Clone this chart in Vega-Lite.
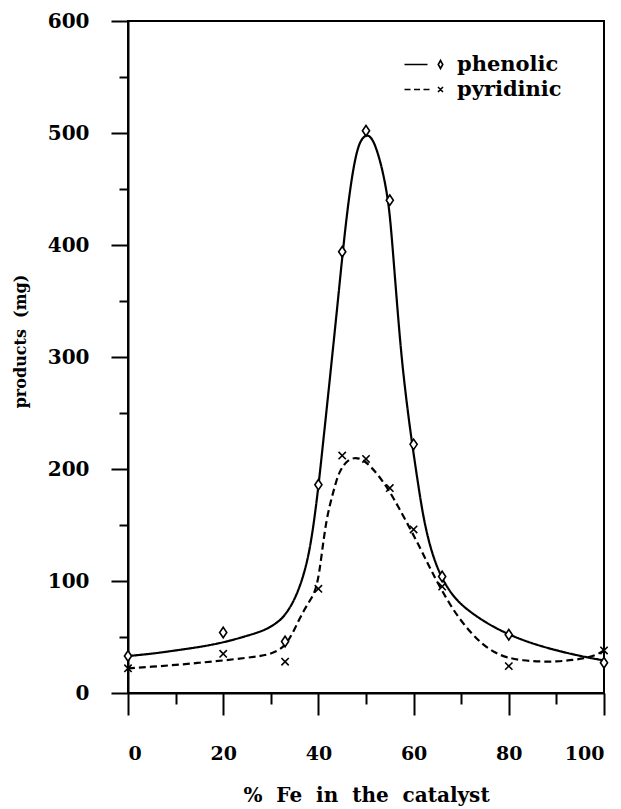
{
  "$schema": "https://vega.github.io/schema/vega-lite/v6.json",
  "width": 476,
  "height": 672,
  "autosize": {"type": "none"},
  "padding": {"left": 128, "top": 21, "right": 17, "bottom": 116},
  "background": "white",
  "config": {
    "view": {"stroke": "black", "strokeWidth": 2},
    "axis": {"grid": false}
  },
  "datasets": {
    "curves": [
      {"curve": "phenolic", "x": 0, "y": 33}, {"curve": "phenolic", "x": 5, "y": 35}, {"curve": "phenolic", "x": 10, "y": 38}, {"curve": "phenolic", "x": 15, "y": 41}, {"curve": "phenolic", "x": 20, "y": 45}, {"curve": "phenolic", "x": 25, "y": 51}, {"curve": "phenolic", "x": 28, "y": 55}, {"curve": "phenolic", "x": 30, "y": 59}, {"curve": "phenolic", "x": 32, "y": 65}, {"curve": "phenolic", "x": 33, "y": 70}, {"curve": "phenolic", "x": 34, "y": 76}, {"curve": "phenolic", "x": 35, "y": 84}, {"curve": "phenolic", "x": 36, "y": 94}, {"curve": "phenolic", "x": 37, "y": 107}, {"curve": "phenolic", "x": 38, "y": 124}, {"curve": "phenolic", "x": 39, "y": 150}, {"curve": "phenolic", "x": 40, "y": 184}, {"curve": "phenolic", "x": 41, "y": 224}, {"curve": "phenolic", "x": 42, "y": 264}, {"curve": "phenolic", "x": 43, "y": 305}, {"curve": "phenolic", "x": 44, "y": 346}, {"curve": "phenolic", "x": 45, "y": 389}, {"curve": "phenolic", "x": 46, "y": 428}, {"curve": "phenolic", "x": 47, "y": 460}, {"curve": "phenolic", "x": 48, "y": 483}, {"curve": "phenolic", "x": 49, "y": 495}, {"curve": "phenolic", "x": 50.3, "y": 499}, {"curve": "phenolic", "x": 51.3, "y": 495}, {"curve": "phenolic", "x": 52.2, "y": 486}, {"curve": "phenolic", "x": 53.3, "y": 470}, {"curve": "phenolic", "x": 54.3, "y": 449}, {"curve": "phenolic", "x": 55, "y": 428}, {"curve": "phenolic", "x": 55.7, "y": 392}, {"curve": "phenolic", "x": 56.6, "y": 343}, {"curve": "phenolic", "x": 57.5, "y": 298}, {"curve": "phenolic", "x": 58.6, "y": 257}, {"curve": "phenolic", "x": 59.7, "y": 222}, {"curve": "phenolic", "x": 61, "y": 185}, {"curve": "phenolic", "x": 62, "y": 158}, {"curve": "phenolic", "x": 63.2, "y": 135}, {"curve": "phenolic", "x": 64.5, "y": 117}, {"curve": "phenolic", "x": 66, "y": 102}, {"curve": "phenolic", "x": 68, "y": 88}, {"curve": "phenolic", "x": 70.4, "y": 77}, {"curve": "phenolic", "x": 75, "y": 63}, {"curve": "phenolic", "x": 80, "y": 52}, {"curve": "phenolic", "x": 85, "y": 44}, {"curve": "phenolic", "x": 90, "y": 38}, {"curve": "phenolic", "x": 95, "y": 33}, {"curve": "phenolic", "x": 100, "y": 29},
      {"curve": "pyridinic", "x": 0, "y": 22}, {"curve": "pyridinic", "x": 5, "y": 23.5}, {"curve": "pyridinic", "x": 10, "y": 25}, {"curve": "pyridinic", "x": 15, "y": 27}, {"curve": "pyridinic", "x": 20, "y": 29}, {"curve": "pyridinic", "x": 25, "y": 31.5}, {"curve": "pyridinic", "x": 28, "y": 33}, {"curve": "pyridinic", "x": 30, "y": 35}, {"curve": "pyridinic", "x": 32, "y": 39}, {"curve": "pyridinic", "x": 33, "y": 43}, {"curve": "pyridinic", "x": 34, "y": 49}, {"curve": "pyridinic", "x": 35, "y": 57}, {"curve": "pyridinic", "x": 36, "y": 66}, {"curve": "pyridinic", "x": 37, "y": 74}, {"curve": "pyridinic", "x": 38, "y": 81}, {"curve": "pyridinic", "x": 39, "y": 88}, {"curve": "pyridinic", "x": 39.6, "y": 95}, {"curve": "pyridinic", "x": 40.2, "y": 108}, {"curve": "pyridinic", "x": 40.7, "y": 124}, {"curve": "pyridinic", "x": 41.2, "y": 140}, {"curve": "pyridinic", "x": 41.7, "y": 154}, {"curve": "pyridinic", "x": 42.4, "y": 168}, {"curve": "pyridinic", "x": 43.1, "y": 179}, {"curve": "pyridinic", "x": 43.8, "y": 190}, {"curve": "pyridinic", "x": 44.5, "y": 198}, {"curve": "pyridinic", "x": 45.4, "y": 204}, {"curve": "pyridinic", "x": 46.3, "y": 208}, {"curve": "pyridinic", "x": 47.5, "y": 210}, {"curve": "pyridinic", "x": 48.6, "y": 209.5}, {"curve": "pyridinic", "x": 49.6, "y": 207.5}, {"curve": "pyridinic", "x": 51, "y": 202}, {"curve": "pyridinic", "x": 52.5, "y": 195}, {"curve": "pyridinic", "x": 54.7, "y": 182}, {"curve": "pyridinic", "x": 57.1, "y": 164}, {"curve": "pyridinic", "x": 59.6, "y": 144}, {"curve": "pyridinic", "x": 61.2, "y": 131}, {"curve": "pyridinic", "x": 62.7, "y": 118}, {"curve": "pyridinic", "x": 64, "y": 107}, {"curve": "pyridinic", "x": 65.5, "y": 95}, {"curve": "pyridinic", "x": 67.5, "y": 80}, {"curve": "pyridinic", "x": 69.5, "y": 67}, {"curve": "pyridinic", "x": 72, "y": 54}, {"curve": "pyridinic", "x": 74.3, "y": 44}, {"curve": "pyridinic", "x": 77, "y": 36}, {"curve": "pyridinic", "x": 79.6, "y": 31.5}, {"curve": "pyridinic", "x": 83, "y": 29}, {"curve": "pyridinic", "x": 86.6, "y": 28}, {"curve": "pyridinic", "x": 90, "y": 28}, {"curve": "pyridinic", "x": 93.6, "y": 29.5}, {"curve": "pyridinic", "x": 96, "y": 31}, {"curve": "pyridinic", "x": 98.5, "y": 34}, {"curve": "pyridinic", "x": 100, "y": 38}
    ],
    "points": [
      {"series": "phenolic", "x": 0, "y": 33}, {"series": "phenolic", "x": 20, "y": 54}, {"series": "phenolic", "x": 33, "y": 46}, {"series": "phenolic", "x": 40, "y": 186}, {"series": "phenolic", "x": 45, "y": 394}, {"series": "phenolic", "x": 50, "y": 502}, {"series": "phenolic", "x": 55, "y": 440}, {"series": "phenolic", "x": 60, "y": 222}, {"series": "phenolic", "x": 66, "y": 104}, {"series": "phenolic", "x": 80, "y": 52}, {"series": "phenolic", "x": 100, "y": 27},
      {"series": "pyridinic", "x": 0, "y": 22}, {"series": "pyridinic", "x": 20, "y": 35}, {"series": "pyridinic", "x": 33, "y": 28}, {"series": "pyridinic", "x": 40, "y": 93}, {"series": "pyridinic", "x": 45, "y": 212}, {"series": "pyridinic", "x": 50, "y": 209}, {"series": "pyridinic", "x": 55, "y": 183}, {"series": "pyridinic", "x": 60, "y": 146}, {"series": "pyridinic", "x": 66, "y": 95}, {"series": "pyridinic", "x": 80, "y": 24}, {"series": "pyridinic", "x": 100, "y": 38}
    ]
  },
  "encoding": {
    "x": {
      "field": "x", "type": "quantitative",
      "scale": {"domain": [0, 100], "nice": false, "zero": false},
      "axis": {
        "orient": "bottom",
        "values": [0, 10, 20, 30, 40, 50, 60, 70, 80, 90, 100],
        "labelExpr": "datum.value % 20 === 0 ? datum.label : ''",
        "labelOverlap": false,
        "tickSize": {"condition": {"test": "datum.value % 20 === 0", "value": 22}, "value": 11},
        "tickWidth": 2, "tickColor": "black",
        "domainWidth": 2, "domainColor": "black",
        "labelFont": "DejaVu Serif", "labelFontWeight": "bold", "labelFontSize": 19, "labelColor": "black",
        "labelPadding": 29,
        "title": "%\u00a0 Fe\u00a0 in\u00a0 the\u00a0 catalyst",
        "titleFont": "DejaVu Serif", "titleFontWeight": "bold", "titleFontSize": 20, "titleColor": "black",
        "titleBaseline": "top", "titleY": 92
      }
    },
    "y": {
      "field": "y", "type": "quantitative",
      "scale": {"domain": [0, 600], "nice": false},
      "axis": {
        "orient": "left",
        "values": [0, 50, 100, 150, 200, 250, 300, 350, 400, 450, 500, 550, 600],
        "labelExpr": "datum.value % 100 === 0 ? datum.label : ''",
        "labelOverlap": false,
        "tickSize": {"condition": {"test": "datum.value % 100 === 0", "value": 17}, "value": 9},
        "tickWidth": 2, "tickColor": "black",
        "domainWidth": 2, "domainColor": "black",
        "labelFont": "DejaVu Serif", "labelFontWeight": "bold", "labelFontSize": 20, "labelColor": "black",
        "labelPadding": 22,
        "title": "products\u00a0 (mg)",
        "titleFont": "DejaVu Serif", "titleFontWeight": "bold", "titleFontSize": 16, "titleColor": "black",
        "titleAngle": 270, "titleBaseline": "bottom", "titleX": -100, "titleY": 320
      }
    }
  },
  "layer": [
    {
      "data": {"name": "curves"},
      "mark": {"type": "line", "color": "black", "strokeWidth": 2.2, "interpolate": "basis"},
      "encoding": {
        "detail": {"field": "curve"},
        "strokeDash": {
          "field": "curve", "type": "nominal",
          "scale": {"domain": ["pyridinic", "phenolic"], "range": [[7, 4], [1, 0]]},
          "legend": null
        }
      }
    },
    {
      "data": {"name": "points"},
      "transform": [{"filter": "datum.series === 'phenolic'"}],
      "mark": {"type": "point", "shape": "M0,-1L0.68,0L0,1L-0.68,0Z", "filled": true, "fill": "white", "stroke": "black", "strokeWidth": 1.6, "size": 110, "opacity": 1},
      "encoding": {}
    },
    {
      "data": {"name": "points"},
      "transform": [{"filter": "datum.series === 'pyridinic'"}],
      "mark": {"type": "point", "shape": "M-0.7,-0.7L0.7,0.7M0.7,-0.7L-0.7,0.7", "filled": false, "stroke": "black", "strokeWidth": 1.6, "size": 110, "opacity": 1},
      "encoding": {}
    },
    {
      "data": {"name": "points"},
      "mark": {"type": "point", "filled": false, "stroke": "black", "strokeWidth": 1.6, "size": 100, "opacity": 0},
      "encoding": {
        "shape": {
          "field": "series", "type": "nominal",
          "scale": {"domain": ["phenolic", "pyridinic"], "range": ["M-7.2,0H-2.6M0,-0.8L0.45,0L0,0.8L-0.45,0Z", "M-7.2,0H-6M-5.3,0H-4.1M-3.4,0H-2.2M-0.5,-0.5L0.5,0.5M0.5,-0.5L-0.5,0.5"]},
          "legend": {
            "title": null,
            "orient": "none",
            "legendX": 302,
            "legendY": 33,
            "padding": 0,
            "symbolSize": 100,
            "symbolOpacity": 1,
            "symbolStrokeWidth": 1.6,
            "symbolStrokeColor": "black",
            "symbolFillColor": "white",
            "labelFont": "DejaVu Serif", "labelFontWeight": "bold", "labelFontSize": 21, "labelColor": "black",
            "labelOffset": 6,
            "rowPadding": 3
          }
        }
      }
    }
  ]
}
